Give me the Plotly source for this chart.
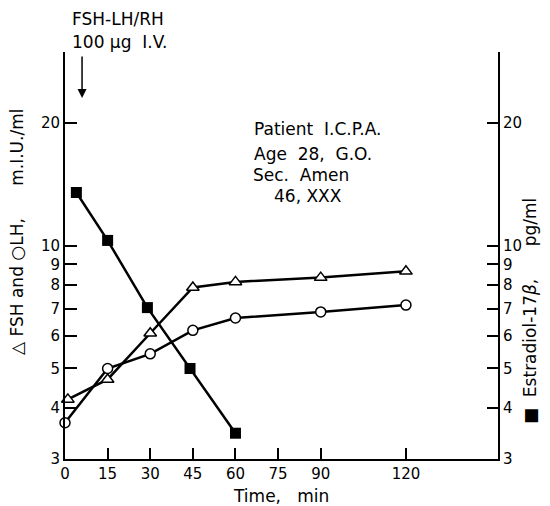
import math
import plotly.graph_objects as go

# ---- data ----
time_fsh = [1, 15, 30, 45, 60, 90, 120]
fsh = [4.2, 4.7, 6.1, 7.9, 8.15, 8.35, 8.65]
time_lh = [0, 15, 30, 45, 60, 90, 120]
lh = [3.68, 5.0, 5.43, 6.2, 6.65, 6.88, 7.15]
time_e2 = [4, 15, 29, 44, 60]
estradiol = [13.5, 10.3, 7.05, 5.0, 3.47]

x_ticks = [0, 15, 30, 45, 60, 75, 90, 120]
y_ticks = [3, 4, 5, 6, 7, 8, 9, 10, 20]

FONT = "DejaVu Sans"

fig = go.Figure()
fig.add_trace(go.Scatter(
    x=time_fsh, y=fsh, mode="lines+markers", cliponaxis=False,
    line=dict(color="black", width=2.5),
    marker=dict(symbol="triangle-up", size=11, color="white",
                line=dict(color="black", width=1.5)),
    showlegend=False))
fig.add_trace(go.Scatter(
    x=time_lh, y=lh, mode="lines+markers", cliponaxis=False,
    line=dict(color="black", width=2.5),
    marker=dict(symbol="circle", size=10, color="white",
                line=dict(color="black", width=1.5)),
    showlegend=False))
fig.add_trace(go.Scatter(
    x=time_e2, y=estradiol, mode="lines+markers", cliponaxis=False,
    line=dict(color="black", width=2.5),
    marker=dict(symbol="square", size=11, color="black"),
    showlegend=False))
# invisible trace to activate the right axis
fig.add_trace(go.Scatter(x=[None], y=[None], yaxis="y2", showlegend=False))

y0 = math.log10(3)
y1 = y0 + 0.9975

# the page adds an 8px body margin, so the figure is 8px smaller on each side
fig.update_layout(
    width=542, height=498,
    margin=dict(l=57, r=52, t=44, b=47),
    paper_bgcolor="white", plot_bgcolor="white",
    font=dict(family=FONT, color="black", size=14),
    xaxis=dict(range=[0, 152.4], tickvals=x_ticks,
               ticktext=[str(v) for v in x_ticks],
               ticks="inside", ticklen=11, tickwidth=1.5, tickcolor="black",
               showline=True, linecolor="black", linewidth=2,
               showgrid=False, zeroline=False,
               tickfont=dict(size=15)),
    yaxis=dict(type="log", range=[y0, y1], tickvals=y_ticks,
               ticktext=[str(v) for v in y_ticks],
               ticks="inside", ticklen=12, tickwidth=1.5, tickcolor="black",
               showline=True, linecolor="black", linewidth=2,
               showgrid=False, zeroline=False, tickfont=dict(size=15)),
    yaxis2=dict(type="log", range=[y0, y1], tickvals=y_ticks,
                ticktext=[str(v) for v in y_ticks],
                overlaying="y", side="right",
                ticks="inside", ticklen=11, tickwidth=1.5, tickcolor="black",
                showline=True, linecolor="black", linewidth=2,
                showgrid=False, zeroline=False, tickfont=dict(size=15)),
)

ann = []
def px_to_paper(px, py):
    # reference-picture pixels -> paper fraction
    return (px - 65) / 433.0, (459 - py) / 407.0

# top-left text
for text, py in [("FSH-LH/RH", 19), ("100 μg  I.V.", 42)]:
    xp, yp = px_to_paper(70, py)
    ann.append(dict(text=text, xref="paper", yref="paper", x=xp, y=yp,
                    xanchor="left", yanchor="middle", showarrow=False,
                    font=dict(size=17)))

# arrow
ann.append(dict(x=6, y=math.log10(23), xref="x", yref="y", text="",
                showarrow=True, arrowhead=2, arrowsize=1.2, arrowwidth=1.5,
                arrowcolor="black", ax=0, ay=-43))

# patient info
for text, px, py in [("Patient  I.C.P.A.", 252, 129), ("Age  28,  G.O.", 252, 154),
                     ("Sec.  Amen", 251, 175), ("46, XXX", 272, 196)]:
    xp, yp = px_to_paper(px, py)
    ann.append(dict(text=text, xref="paper", yref="paper", x=xp, y=yp,
                    xanchor="left", yanchor="middle", showarrow=False,
                    font=dict(size=17)))

# x title
xp, yp = px_to_paper(281, 496)
ann.append(dict(text="Time,   min", xref="paper", yref="paper", x=xp, y=yp,
                xanchor="center", yanchor="middle", showarrow=False,
                font=dict(size=17)))

# left y title
xp, yp = px_to_paper(17, 232)
ann.append(dict(text="△ FSH and ○LH,      m.I.U./ml", xref="paper", yref="paper",
                x=xp, y=yp, xanchor="center", yanchor="middle", textangle=-90,
                showarrow=False, font=dict(size=17)))

# right y title
xp, yp = px_to_paper(530, 311)
ann.append(dict(text="■  Estradiol-17<i>β</i>,      pg/ml", xref="paper", yref="paper",
                x=xp, y=yp, xanchor="center", yanchor="middle", textangle=-90,
                showarrow=False, font=dict(size=17)))

fig.update_layout(annotations=ann)
fig.write_html("out.html")
